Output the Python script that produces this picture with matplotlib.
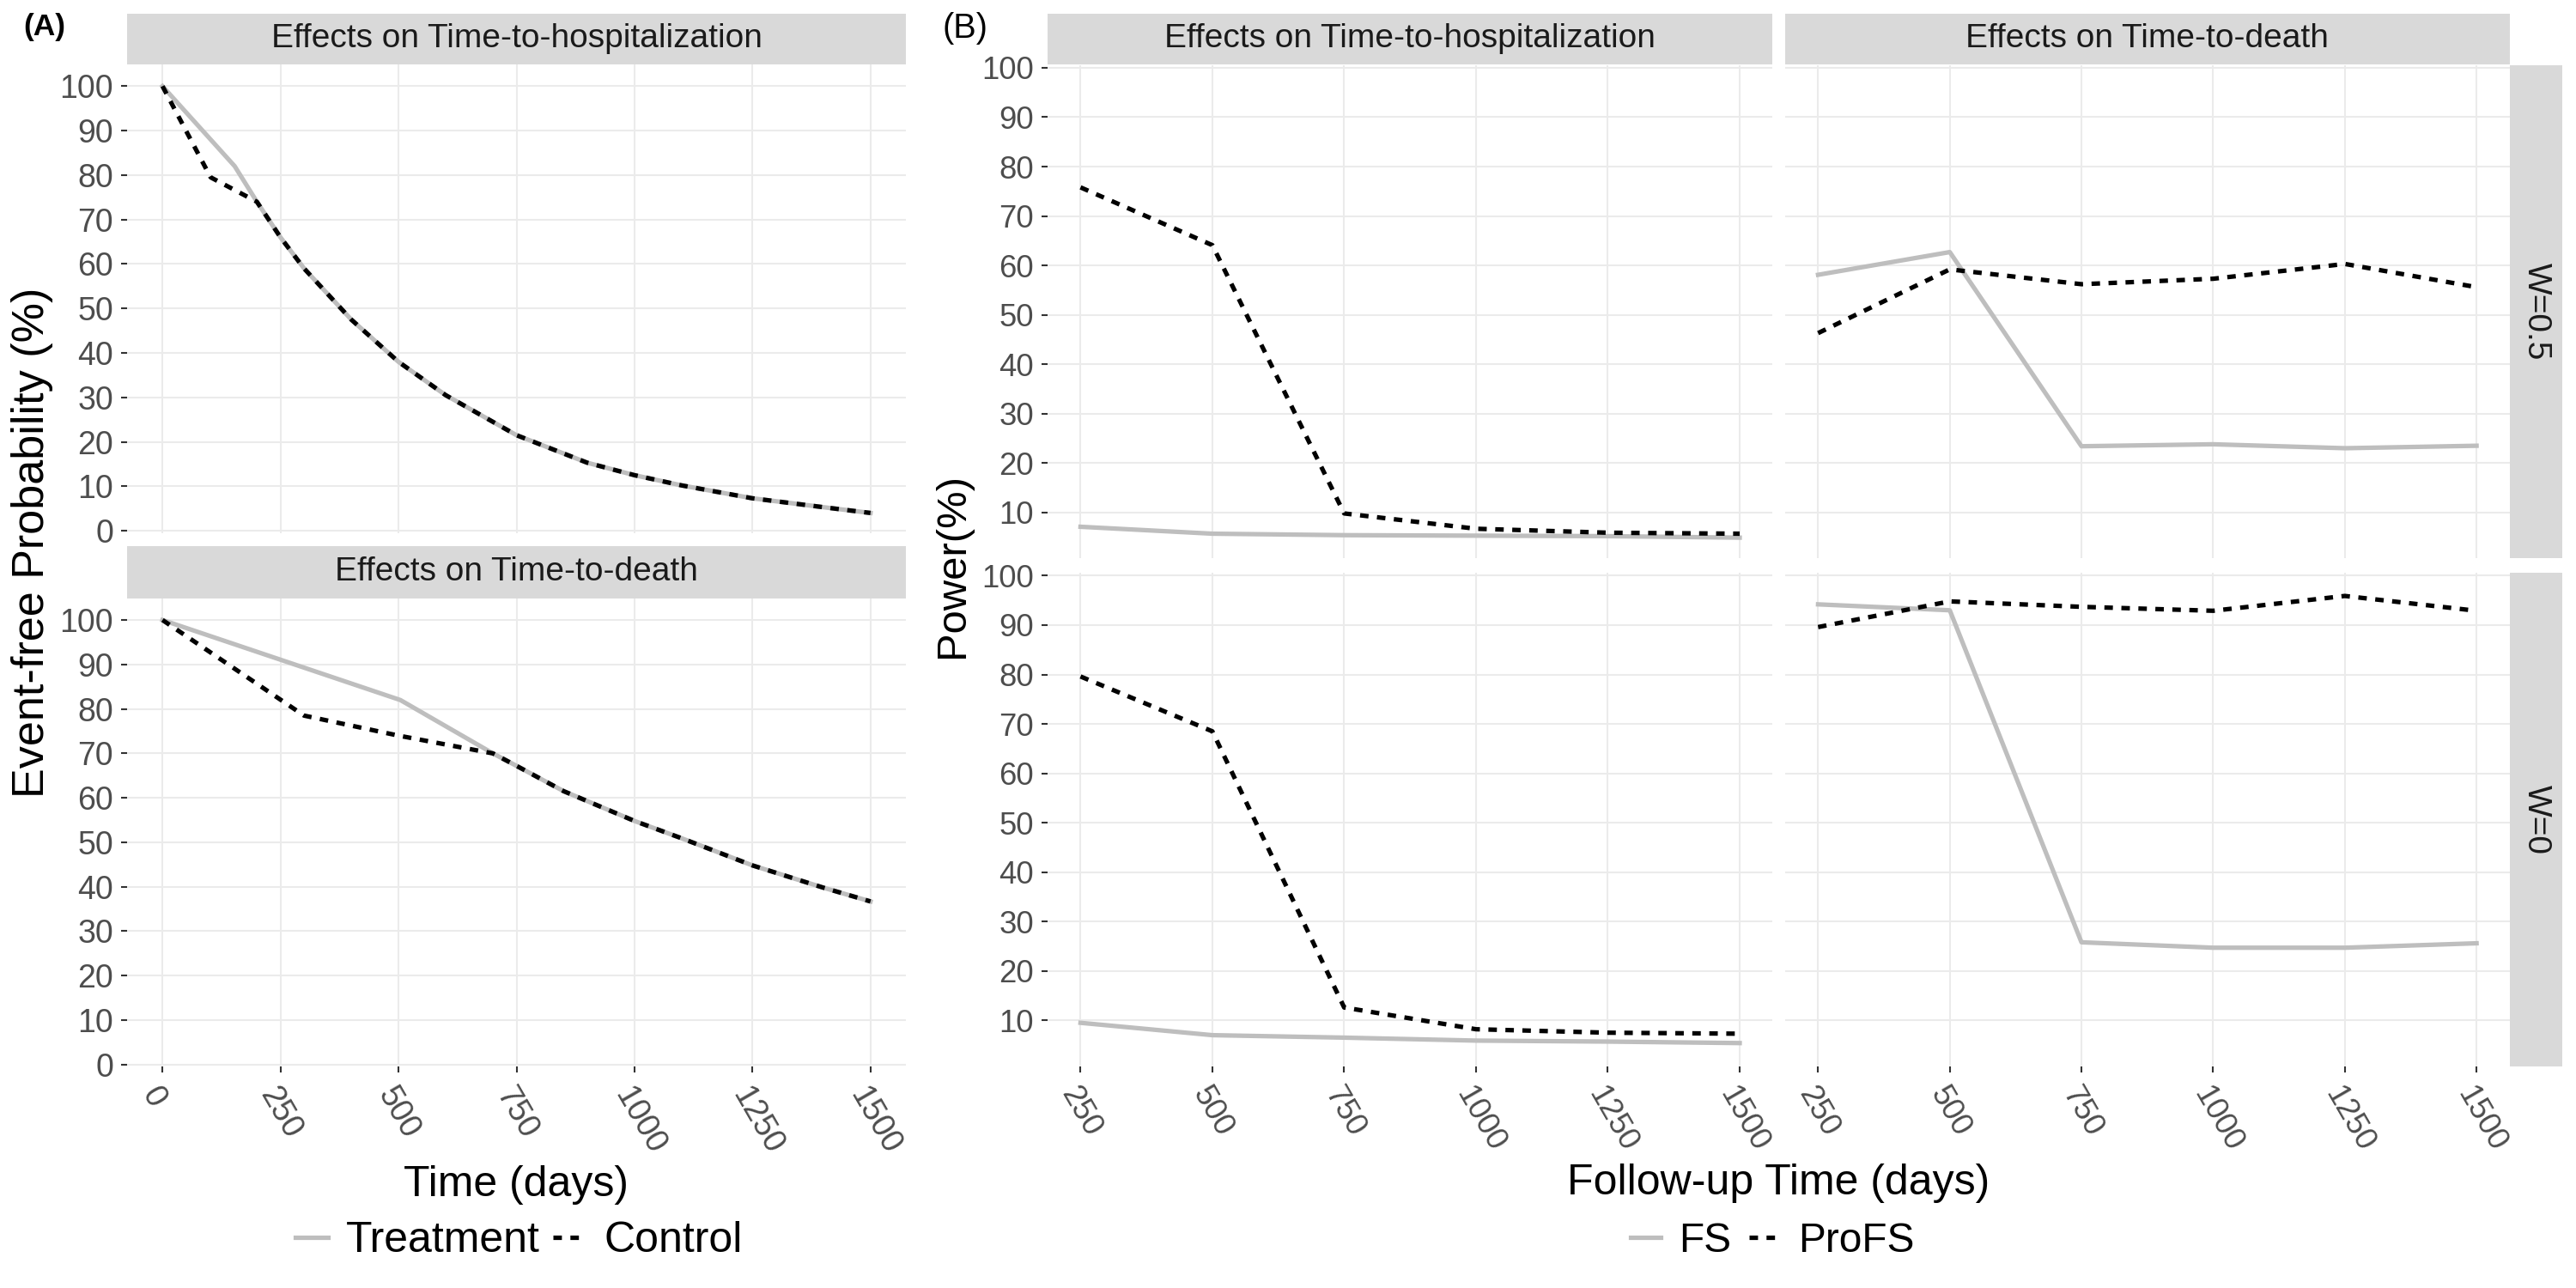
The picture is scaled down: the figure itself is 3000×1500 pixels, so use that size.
import matplotlib
matplotlib.use("Agg")
import matplotlib.pyplot as plt
from matplotlib.lines import Line2D

plt.rcParams['font.family'] = ['Liberation Sans', 'DejaVu Sans']

# ---- panel (A): event-free probability curves ----
hosp_trt_days = [0, 153, 200, 250, 300, 400, 500, 600, 750, 900, 1000, 1100, 1250, 1400, 1500]
hosp_trt = [100, 82, 74, 66, 59, 47.5, 38, 30.5, 21.5, 15.3, 12.5, 10.2, 7.3, 5.3, 4.0]
hosp_ctl_days = [0, 102, 200, 250, 300, 400, 500, 600, 750, 900, 1000, 1100, 1250, 1400, 1500]
hosp_ctl = [100, 79.5, 74, 66, 59, 47.5, 38, 30.5, 21.5, 15.3, 12.5, 10.2, 7.3, 5.3, 4.0]

death_trt_days = [0, 504, 700, 750, 850, 1000, 1100, 1250, 1400, 1500]
death_trt = [100, 82, 70, 67.2, 61.5, 54.8, 50.9, 44.8, 39.8, 36.7]
death_ctl_days = [0, 300, 500, 700, 750, 850, 1000, 1100, 1250, 1400, 1500]
death_ctl = [100, 78.5, 74, 70, 67.2, 61.5, 54.8, 50.9, 44.8, 39.8, 36.7]

# ---- panel (B): power by follow-up time ----
followup = [250, 500, 750, 1000, 1250, 1500]
fs_hosp_w05 = [7.1, 5.7, 5.4, 5.3, 5.2, 4.9]
profs_hosp_w05 = [75.8, 64.1, 9.8, 6.7, 5.9, 5.7]
fs_death_w05 = [58.1, 62.7, 23.4, 23.8, 23.0, 23.5]
profs_death_w05 = [46.3, 59.2, 56.2, 57.3, 60.3, 55.6]
fs_hosp_w0 = [9.5, 7.0, 6.5, 5.9, 5.7, 5.4]
profs_hosp_w0 = [79.6, 68.5, 12.6, 8.2, 7.5, 7.3]
fs_death_w0 = [94.2, 93.0, 25.8, 24.7, 24.7, 25.6]
profs_death_w0 = [89.6, 94.8, 93.7, 92.9, 95.9, 92.9]

W, H = 3000.0, 1500.0
GREY = '#BEBEBE'
STRIP = '#D9D9D9'
GRID = '#EBEBEB'
LW = 2.5
DASH = (1.9, 1.9)


def box(x0, y0, x1, y1):
    # pixel box (top-left origin) -> figure fraction
    return [x0 / W, 1 - y1 / H, (x1 - x0) / W, (y1 - y0) / H]


def strip(fig, x0, y0, x1, y1, text, rot=0):
    ax = fig.add_axes(box(x0, y0, x1, y1))
    ax.set_facecolor(STRIP)
    ax.set_xticks([])
    ax.set_yticks([])
    for s in ax.spines.values():
        s.set_visible(False)
    ax.text(0.5, 0.5, text, transform=ax.transAxes, ha='center', va='center',
            fontsize=18.7, color='#1A1A1A', rotation=rot)
    return ax


def panel(fig, x0, y0, x1, y1, xlim, ylim, xticks, yticks, show_x, show_y, fs):
    ax = fig.add_axes(box(x0, y0, x1, y1))
    for s in ax.spines.values():
        s.set_visible(False)
    ax.set_xlim(*xlim)
    ax.set_ylim(*ylim)
    ax.set_xticks(xticks)
    ax.set_yticks(yticks)
    ax.grid(True, color=GRID, linewidth=1.0)
    ax.set_axisbelow(True)
    ax.tick_params(axis='both', length=3.4, width=1.0, color='#333333',
                   labelcolor='#4D4D4D', labelsize=fs)
    ax.tick_params(axis='y', pad=4.2)
    ax.tick_params(axis='x', pad=5)
    if show_x:
        plt.setp(ax.get_xticklabels(), rotation=-60, ha='left', va='top',
                 rotation_mode='anchor')
    else:
        ax.tick_params(axis='x', length=0, labelbottom=False)
    if not show_y:
        ax.tick_params(axis='y', length=0, labelleft=False)
    return ax


fig = plt.figure(figsize=(20, 10), dpi=150)

# ---------------- (A) ----------------
xa = (-75, 1575)
ya = (-0.5, 104.9)
a_ticks_x = [0, 250, 500, 750, 1000, 1250, 1500]
a_ticks_y = list(range(0, 101, 10))

strip(fig, 148, 15.6, 1055, 75, 'Effects on Time-to-hospitalization')
ax1 = panel(fig, 148, 75, 1055, 620.7, xa, ya, a_ticks_x, a_ticks_y, False, True, 18)
ax1.plot(hosp_trt_days, hosp_trt, color=GREY, lw=LW)
ax1.plot(hosp_ctl_days, hosp_ctl, color='black', lw=LW, dashes=DASH)

strip(fig, 148, 636, 1055, 696.7, 'Effects on Time-to-death')
ax2 = panel(fig, 148, 696.7, 1055, 1242.4, xa, ya, a_ticks_x, a_ticks_y, True, True, 18)
ax2.plot(death_trt_days, death_trt, color=GREY, lw=LW)
ax2.plot(death_ctl_days, death_ctl, color='black', lw=LW, dashes=DASH)

fig.text(52 / W, 1 - 31 / H, '(A)', fontsize=17, fontweight='bold', ha='center', va='center')
fig.text(38 / W, 1 - 632 / H, 'Event-free Probability (%)', fontsize=25, rotation=90,
         ha='center', va='center')
fig.text(601 / W, 1 - 1380 / H, 'Time (days)', fontsize=24, ha='center', va='center')

hA = [Line2D([], [], color=GREY, lw=LW), Line2D([], [], color='black', lw=LW, dashes=DASH)]
fig.legend(hA, ['Treatment', 'Control'], loc='center', bbox_to_anchor=(604 / W, 1 - 1445 / H),
           ncol=2, frameon=False, fontsize=24, handlelength=0.76, handletextpad=0.42,
           columnspacing=0.31, borderpad=0, borderaxespad=0)

# ---------------- (B) ----------------
xb = (187.5, 1562.5)
yb = (0.7, 100.6)
b_ticks_y = list(range(10, 101, 10))
cols = [(1220, 2064.4), (2079, 2922.5)]
rows = [(75.5, 650.3), (667, 1241.8)]

strip(fig, cols[0][0], 15.6, cols[0][1], 75, 'Effects on Time-to-hospitalization')
strip(fig, cols[1][0], 15.6, cols[1][1], 75, 'Effects on Time-to-death')
strip(fig, 2923.3, rows[0][0], 2984, rows[0][1], 'W=0.5', rot=-90)
strip(fig, 2923.3, rows[1][0], 2984, rows[1][1], 'W=0', rot=-90)

series = [[(fs_hosp_w05, profs_hosp_w05), (fs_death_w05, profs_death_w05)],
          [(fs_hosp_w0, profs_hosp_w0), (fs_death_w0, profs_death_w0)]]
for r in range(2):
    for c in range(2):
        ax = panel(fig, cols[c][0], rows[r][0], cols[c][1], rows[r][1], xb, yb,
                   followup, b_ticks_y, r == 1, c == 0, 17.5)
        fs, profs = series[r][c]
        ax.plot(followup, fs, color=GREY, lw=LW)
        ax.plot(followup, profs, color='black', lw=LW, dashes=DASH)

fig.text(1124 / W, 1 - 33 / H, '(B)', fontsize=19, ha='center', va='center')
fig.text(1110 / W, 1 - 658 / H, 'Power(%)', fontsize=23.5, rotation=90, ha='center', va='center')
fig.text(2071 / W, 1 - 1378 / H, 'Follow-up Time (days)', fontsize=24, ha='center', va='center')

hB = [Line2D([], [], color=GREY, lw=LW), Line2D([], [], color='black', lw=LW, dashes=DASH)]
fig.legend(hB, ['FS', 'ProFS'], loc='center', bbox_to_anchor=(2064 / W, 1 - 1445 / H),
           ncol=2, frameon=False, fontsize=23, handlelength=0.74, handletextpad=0.44,
           columnspacing=0.43, borderpad=0, borderaxespad=0)

fig.savefig('out.png', dpi=150, facecolor='white')
